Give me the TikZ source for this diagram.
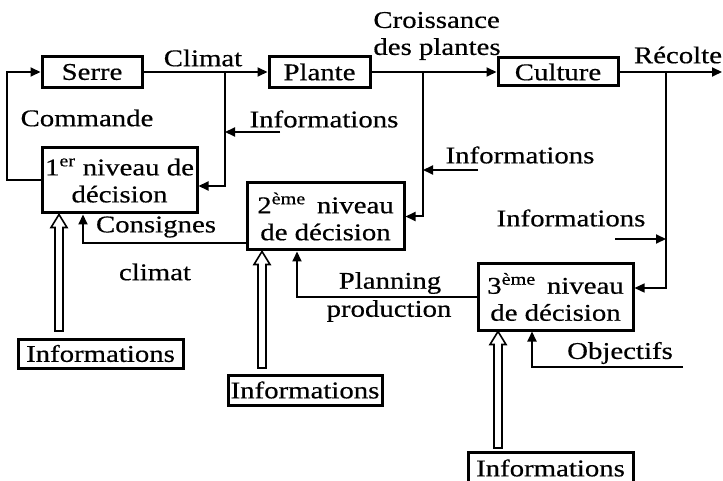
\documentclass[tikz,border=0pt]{standalone}
\usepackage{fontspec}
\setmainfont{Liberation Serif}[FakeStretch=1.2, FakeBold=0.5]
\usetikzlibrary{arrows.meta,calc}

\tikzset{
  style schema/.style={
      x=1pt, y=-1pt,
      bloc/.style={draw, line width=3pt, inner sep=2pt, align=center},
      fleche/.style={-{Triangle[length=10pt, width=9pt]}, line width=2pt},
      creuse/.style={draw, fill=white, line width=1.6pt, line join=miter},
      every node/.style={font={\fontsize{24}{27}\selectfont}},
    },
}
\newcommand\flechecreuse[2]{%
  \draw[creuse] let \p1=(#1), \p2=(#2) in
    (\x1-4pt,\y1) -- (\x1-4pt,\y2-13pt) -- (\x1-8pt,\y2-13pt) -- (\x2,\y2)
    -- (\x1+8pt,\y2-13pt) -- (\x1+4pt,\y2-13pt) -- (\x1+4pt,\y1) -- cycle;}

\begin{document}
\begin{tikzpicture}[style schema]
    \useasboundingbox (0,0) rectangle (723,481);

    % chaine principale
    \node[bloc, minimum width=100pt, minimum height=31pt] (serre) at (92,72) {Serre};
    \node[bloc, minimum width=101pt, minimum height=31pt] (plante) at (319.5,72) {Plante};
    \node[bloc, minimum width=120pt, minimum height=28pt] (culture) at (558,72) {Culture};
    \coordinate (sortie) at (722,72);

    % niveaux de decision
    \node[bloc, minimum width=155pt, minimum height=65pt] (n1) at (119.5,180.5)
      {1\textsuperscript{er} niveau de\\décision};
    \node[bloc, minimum width=157pt, minimum height=67pt] (n2) at (325.5,216.5)
      {2\textsuperscript{ème}\, niveau\\de décision};
    \node[bloc, minimum width=155pt, minimum height=66pt] (n3) at (555.5,297)
      {3\textsuperscript{ème}\, niveau\\de décision};

    \node[bloc, minimum width=165pt, minimum height=29pt] (info1) at (100.5,353.5) {Informations};
    \node[bloc, minimum width=154pt, minimum height=30pt] (info2) at (305,390) {Informations};
    \node[bloc, minimum width=165pt, minimum height=32pt] (info3) at (550.5,468) {Informations};

    % textes
    \node (climat) at (203,58) {Climat};
    \node[align=left] (croissance) at (437,36) {Croissance\\des plantes};
    \node (recolte) at (678,55) {Récolte};
    \node (commande) at (87,118) {Commande};
    \node (infoa) at (324,119) {Informations};
    \node (infob) at (520,155) {Informations};
    \node (infoc) at (571,218) {Informations};
    \node (consignes) at (156,227) {Consignes};
    \node (climat2) at (155,272) {climat};
    \node (planning) at (390,283) {Planning};
    \node (production) at (389,311) {production};
    \node (objectifs) at (620,353) {Objectifs};

    \coordinate (j1) at (225,72);
    \coordinate (j2) at (423,72);
    \coordinate (j3) at (666,72);
    \coordinate (ia) at (280,132);
    \coordinate (ib) at (478,170);
    \coordinate (ic) at (615,239);
    \coordinate (obj) at (683,367);
    \coordinate (h1) at (59,331);
    \coordinate (h2) at (262,368);
    \coordinate (h3) at (498,448);

    \draw[fleche] (serre) -- (plante);
    \draw[fleche] (plante) -- (culture);
    \draw[fleche] (culture) -- (sortie);
    \draw[fleche] (n1.west) -| ++(-34,0) |- (serre.west);

    \draw[fleche] (j1) |- ([yshift=-5.5pt]n1.east);
    \draw[fleche] (ia) -- (ia -| j1);
    \draw[fleche] (j2) |- (n2.east);
    \draw[fleche] (ib) -- (ib -| j2);
    \draw[fleche, line width=1.3pt] (j3) |- ([yshift=9pt]n3.east);
    \draw[fleche] (ic) -- (ic -| j3);

    \draw[fleche] ([yshift=-27pt]n2.west) -| ([xshift=-36.5pt]n1.south);
    \draw[fleche] (n3.west) -| ([xshift=-28.5pt]n2.south);
    \draw[fleche] (obj) -| ([xshift=-23.5pt]n3.south);

    \flechecreuse{h1}{h1 |- n1.south}
    \flechecreuse{h2}{h2 |- n2.south}
    \flechecreuse{h3}{h3 |- n3.south}
  \end{tikzpicture}
\end{document}
